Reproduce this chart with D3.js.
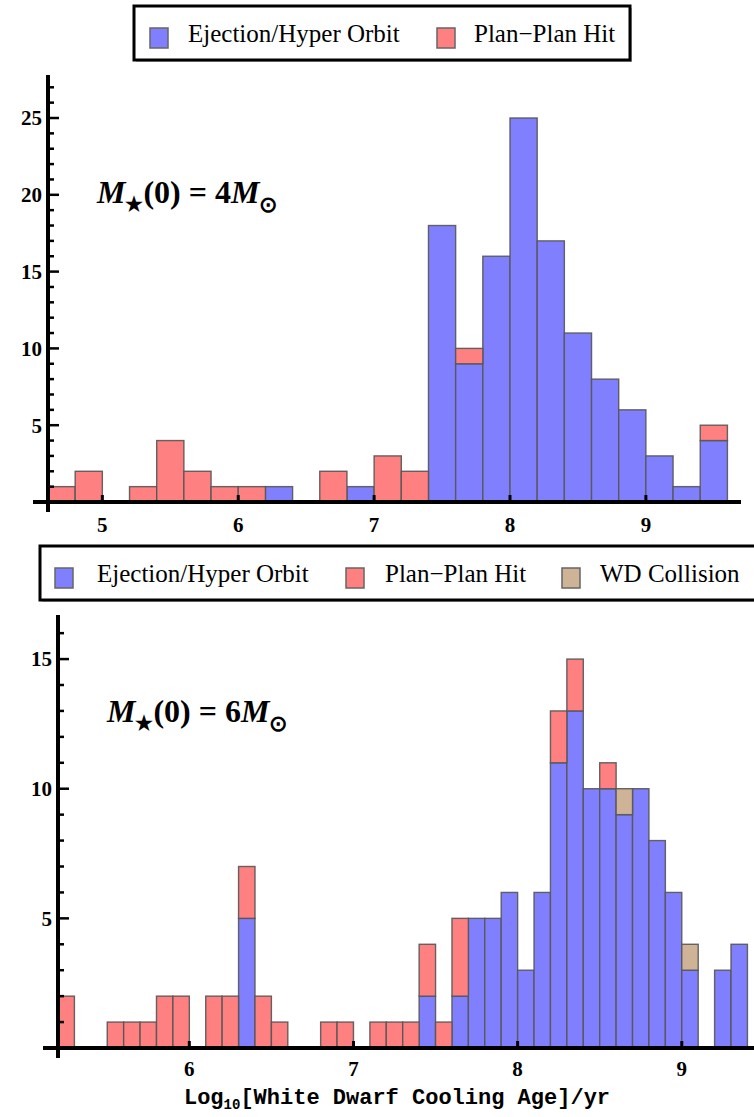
<!DOCTYPE html>
<html>
<head>
<meta charset="utf-8">
<script src="https://cdn.jsdelivr.net/npm/d3@7/dist/d3.min.js"></script>
<style>
  html, body { margin: 0; padding: 0; background: #fff; }
  svg { display: block; }
  .tick-label { font-family: "Liberation Serif", "Times New Roman", serif; font-weight: bold; font-size: 21px; fill: #000; }
  .legend-text { font-family: "Liberation Serif", "Times New Roman", serif; font-size: 25px; fill: #000; }
  .axis-title { font-family: "Liberation Mono", "Courier New", monospace; font-weight: bold; font-size: 22px; fill: #000; }
  .mass-label { font-family: "Liberation Serif", "Times New Roman", serif; font-weight: bold; font-size: 32px; fill: #000; }
</style>
</head>
<body>
<svg id="chart" width="754" height="1117"></svg>
<script>
// ---- Panel A: M*(0) = 4 Msun, bins of width 0.2 starting at 4.6 ----
const binStartA = 4.6;
const binWidthA = 0.2;
const ejectionA = [0, 0, 0, 0, 0, 0, 0, 0, 1, 0, 0, 1, 0, 0, 18, 9, 16, 25, 17, 11, 8, 6, 3, 1, 4];
const planHitA  = [1, 2, 0, 1, 4, 2, 1, 1, 0, 0, 2, 0, 3, 2, 0, 1, 0, 0, 0, 0, 0, 0, 0, 0, 1];
const xTicksA = [5, 6, 7, 8, 9];
const yTicksA = [5, 10, 15, 20, 25];

// ---- Panel B: M*(0) = 6 Msun, bins of width 0.1 starting at 5.2 ----
const binStartB = 5.2;
const binWidthB = 0.1;
const ejectionB = [0, 0, 0, 0, 0, 0, 0, 0, 0, 0, 0, 5, 0, 0, 0, 0, 0, 0, 0, 0, 0, 0, 2, 0, 2, 5, 5, 6, 3, 6, 11, 13, 10, 10, 9, 10, 8, 6, 3, 0, 3, 4];
const planHitB  = [2, 0, 0, 1, 1, 1, 2, 2, 0, 2, 2, 2, 2, 1, 0, 0, 1, 1, 0, 1, 1, 1, 2, 1, 3, 0, 0, 0, 0, 0, 2, 2, 0, 1, 0, 0, 0, 0, 0, 0, 0, 0];
const wdCollB   = [0, 0, 0, 0, 0, 0, 0, 0, 0, 0, 0, 0, 0, 0, 0, 0, 0, 0, 0, 0, 0, 0, 0, 0, 0, 0, 0, 0, 0, 0, 0, 0, 0, 0, 1, 0, 0, 0, 1, 0, 0, 0];
const xTicksB = [6, 7, 8, 9];
const yTicksB = [5, 10, 15];

const seriesNames = ["Ejection/Hyper Orbit", "Plan\u2212Plan Hit", "WD Collision"];
const seriesColors = ["#8080ff", "#ff8080", "#cfb396"];
const xTitle = "White Dwarf Cooling Age";

const svg = d3.select("#chart");

function drawPanel(cfg) {
  const g = svg.append("g");
  const x = d3.scaleLinear().domain(cfg.xDomain).range(cfg.xRange);
  const y = d3.scaleLinear().domain(cfg.yDomain).range(cfg.yRange);

  // Build stacked bins
  const rows = cfg.series[0].map((_, i) => {
    const r = { x0: cfg.binStart + i * cfg.binWidth, x1: cfg.binStart + (i + 1) * cfg.binWidth };
    cfg.series.forEach((s, k) => { r["s" + k] = s[i]; });
    return r;
  });
  const keys = cfg.series.map((_, k) => "s" + k);
  const stacked = d3.stack().keys(keys)(rows);

  stacked.forEach((layer, k) => {
    g.append("g").selectAll("rect")
      .data(layer.filter(d => d[1] - d[0] > 0))
      .join("rect")
      .attr("x", d => x(d.data.x0))
      .attr("width", d => x(d.data.x1) - x(d.data.x0))
      .attr("y", d => y(d[1]))
      .attr("height", d => y(d[0]) - y(d[1]))
      .attr("fill", seriesColors[k])
      .attr("stroke", "#555")
      .attr("stroke-opacity", 0.9)
      .attr("stroke-width", 1.4);
  });

  const x0 = cfg.xRange[0], y0 = cfg.yRange[0];

  // Y axis minor ticks every unit, major every 5
  const minor = d3.range(1, Math.floor(cfg.yDomain[1]) + 1).filter(v => v % 5 !== 0);
  g.append("g").selectAll("line.minor")
    .data(minor).join("line")
    .attr("x1", x0).attr("x2", x0 + 6)
    .attr("y1", d => y(d)).attr("y2", d => y(d))
    .attr("stroke", "#000").attr("stroke-width", 2.5);
  g.append("g").selectAll("line.major")
    .data(cfg.yTicks).join("line")
    .attr("x1", x0).attr("x2", x0 + 11)
    .attr("y1", d => y(d)).attr("y2", d => y(d))
    .attr("stroke", "#000").attr("stroke-width", 2.5);
  g.append("g").selectAll("text")
    .data(cfg.yTicks).join("text")
    .attr("class", "tick-label")
    .attr("x", x0 - 6).attr("y", d => y(d))
    .attr("dy", "0.35em")
    .attr("text-anchor", "end")
    .text(d => d);

  // X axis ticks
  g.append("g").selectAll("line")
    .data(cfg.xTicks).join("line")
    .attr("x1", d => x(d)).attr("x2", d => x(d))
    .attr("y1", y0).attr("y2", y0 - 7)
    .attr("stroke", "#000").attr("stroke-width", 3);
  g.append("g").selectAll("text")
    .data(cfg.xTicks).join("text")
    .attr("class", "tick-label")
    .attr("x", d => x(d)).attr("y", y0 + cfg.xLabelOffset)
    .attr("text-anchor", "middle")
    .text(d => d);

  // Axis lines (crossing at the origin)
  g.append("line")
    .attr("x1", x0 - 15).attr("x2", cfg.xRange[1])
    .attr("y1", y0).attr("y2", y0)
    .attr("stroke", "#000").attr("stroke-width", 4);
  g.append("line")
    .attr("x1", x0).attr("x2", x0)
    .attr("y1", cfg.yRange[1]).attr("y2", y0 + 10)
    .attr("stroke", "#000").attr("stroke-width", 4);

  // Initial mass annotation
  const t = g.append("text").attr("class", "mass-label")
    .attr("x", cfg.labelPos[0]).attr("y", cfg.labelPos[1]);
  t.append("tspan").attr("font-style", "italic").text("M");
  t.append("tspan").attr("font-size", "20px").attr("dy", 8).text("\u2605");
  t.append("tspan").attr("dy", -8).text("(0) = " + cfg.mass);
  t.append("tspan").attr("font-style", "italic").text("M");
  t.append("tspan").attr("font-size", "22px").attr("dy", 9).text("\u2299");

  // Legend
  const lg = g.append("g");
  lg.append("rect")
    .attr("x", cfg.legend.x + 2).attr("y", cfg.legend.y + 2)
    .attr("width", cfg.legend.w).attr("height", cfg.legend.h)
    .attr("fill", "#bbb");
  lg.append("rect")
    .attr("x", cfg.legend.x).attr("y", cfg.legend.y)
    .attr("width", cfg.legend.w).attr("height", cfg.legend.h)
    .attr("fill", "#fff").attr("stroke", "#000").attr("stroke-width", 3);
  cfg.legend.items.forEach((it, k) => {
    lg.append("rect")
      .attr("x", it.sx).attr("y", cfg.legend.y + 22)
      .attr("width", 18).attr("height", 20)
      .attr("fill", seriesColors[k]).attr("stroke", "#666").attr("stroke-width", 1.5);
    lg.append("text").attr("class", "legend-text")
      .attr("x", it.tx).attr("y", cfg.legend.y + 36)
      .text(seriesNames[k]);
  });
}

drawPanel({
  binStart: binStartA, binWidth: binWidthA,
  series: [ejectionA, planHitA],
  xDomain: [4.6, 9.7], xRange: [48, 741],
  yDomain: [0, 27.8], yRange: [502, 75],
  xTicks: xTicksA, yTicks: yTicksA,
  xLabelOffset: 30,
  mass: "4",
  labelPos: [97, 203],
  legend: { x: 134, y: 6, w: 496, h: 54,
    items: [{ sx: 150, tx: 188 }, { sx: 437, tx: 474 }] }
});

drawPanel({
  binStart: binStartB, binWidth: binWidthB,
  series: [ejectionB, planHitB, wdCollB],
  xDomain: [5.2, 9.44], xRange: [58, 754],
  yDomain: [0, 16.7], yRange: [1048, 615],
  xTicks: xTicksB, yTicks: yTicksB,
  xLabelOffset: 28,
  mass: "6",
  labelPos: [107, 722],
  legend: { x: 40, y: 546, w: 730, h: 54,
    items: [{ sx: 55, tx: 97 }, { sx: 346, tx: 385 }, { sx: 562, tx: 600 }] }
});

// Shared x-axis title
const title = svg.append("text").attr("class", "axis-title")
  .attr("x", 397).attr("y", 1104).attr("text-anchor", "middle");
title.append("tspan").text("Log");
title.append("tspan").attr("font-size", "14px").attr("dy", 5).text("10");
title.append("tspan").attr("dy", -5).text("[" + xTitle + "]/yr");
</script>
</body>
</html>
